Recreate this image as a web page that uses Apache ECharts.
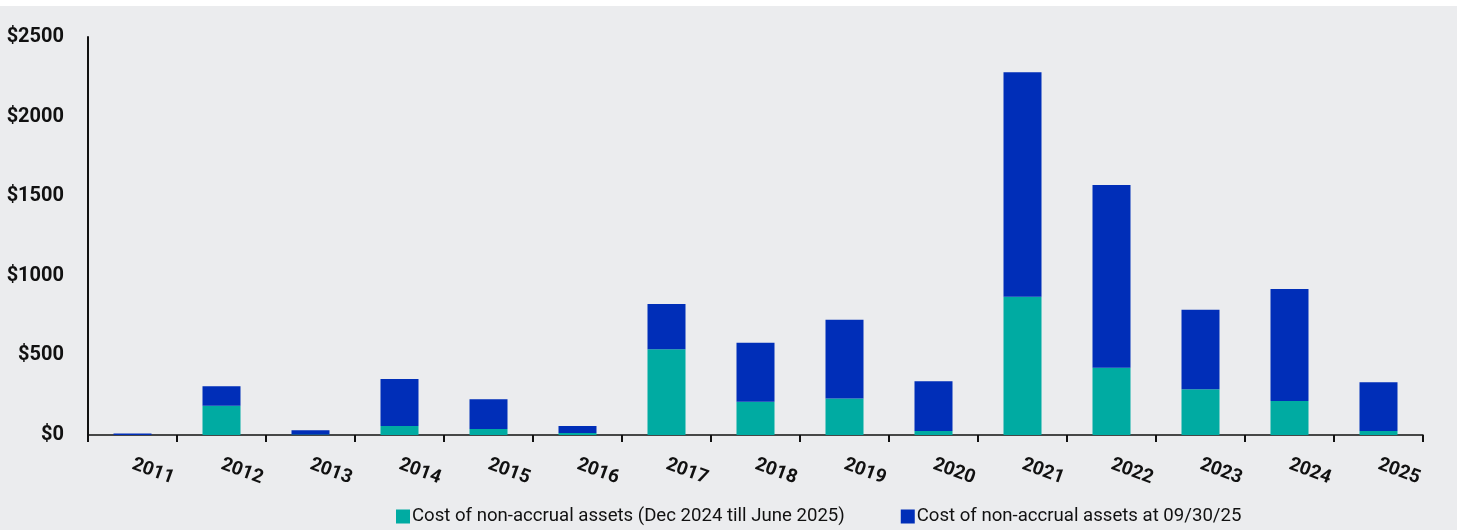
<!DOCTYPE html>
<html>
<head>
<meta charset="utf-8">
<script src="https://cdn.jsdelivr.net/npm/echarts@6/dist/echarts.min.js"></script>
<style>
  html, body { margin: 0; padding: 0; background: #ffffff; }
  #chart { position: absolute; left: 0; top: 6px; width: 1457px; height: 524px; background: #ebecee; }
</style>
</head>
<body>
<div id="chart"></div>
<script>
// 年份
const years = ['2011', '2012', '2013', '2014', '2015', '2016', '2017', '2018',
  '2019', '2020', '2021', '2022', '2023', '2024', '2025'];
// 绿色部分 (Dec 2024 till June 2025)
const costDecToJune = [0, 184, 3, 57, 38, 13, 538, 209, 230, 25, 869, 423, 287, 213, 25];
// 蓝色部分 (at 09/30/25)，堆叠在上面
const costAtSept = [10, 122, 27, 295, 186, 44, 285, 371, 494, 312, 1409, 1147, 500, 704, 306];
// Y 轴刻度
const yTicks = [0, 500, 1000, 1500, 2000, 2500];

const seriesNames = [
  'Cost of non-accrual assets (Dec 2024 till June 2025)',
  'Cost of non-accrual assets at 09/30/25'
];

const chart = echarts.init(document.getElementById('chart'));

const option = {
  animation: false,
  grid: {
    left: 88,
    right: 34,
    top: 31,
    bottom: 95,
    containLabel: false
  },
  legend: {
    data: seriesNames,
    bottom: 4,
    left: 396,
    padding: 0,
    itemWidth: 14,
    itemHeight: 14,
    itemGap: 56,
    icon: 'rect',
    textStyle: {
      fontFamily: 'Roboto',
      fontSize: 18.6,
      color: '#111111',
      padding: [0, 0, 0, -3]
    }
  },
  xAxis: {
    type: 'category',
    data: years,
    axisLine: { lineStyle: { color: '#111111', width: 1.5 } },
    axisTick: { show: true, length: 7, lineStyle: { color: '#111111', width: 2 } },
    axisLabel: {
      rotate: -20,
      margin: 29,
      fontFamily: 'Roboto',
      fontWeight: 'bold',
      fontSize: 19,
      color: '#111111'
    }
  },
  yAxis: {
    type: 'value',
    min: yTicks[0],
    max: yTicks[yTicks.length - 1],
    interval: 500,
    axisLine: { show: true, lineStyle: { color: '#111111', width: 2 } },
    axisTick: { show: false },
    splitLine: { show: false },
    axisLabel: {
      margin: 24,
      fontFamily: 'Roboto',
      fontWeight: 'bold',
      fontSize: 20,
      color: '#111111',
      formatter: v => '$' + v
    }
  },
  series: [
    {
      name: seriesNames[0],
      type: 'bar',
      stack: 'total',
      barWidth: 38,
      data: costDecToJune,
      itemStyle: { color: '#00aba2' }
    },
    {
      name: seriesNames[1],
      type: 'bar',
      stack: 'total',
      barWidth: 38,
      data: costAtSept,
      itemStyle: { color: '#002eb8' }
    }
  ]
};

chart.setOption(option);
</script>
</body>
</html>
